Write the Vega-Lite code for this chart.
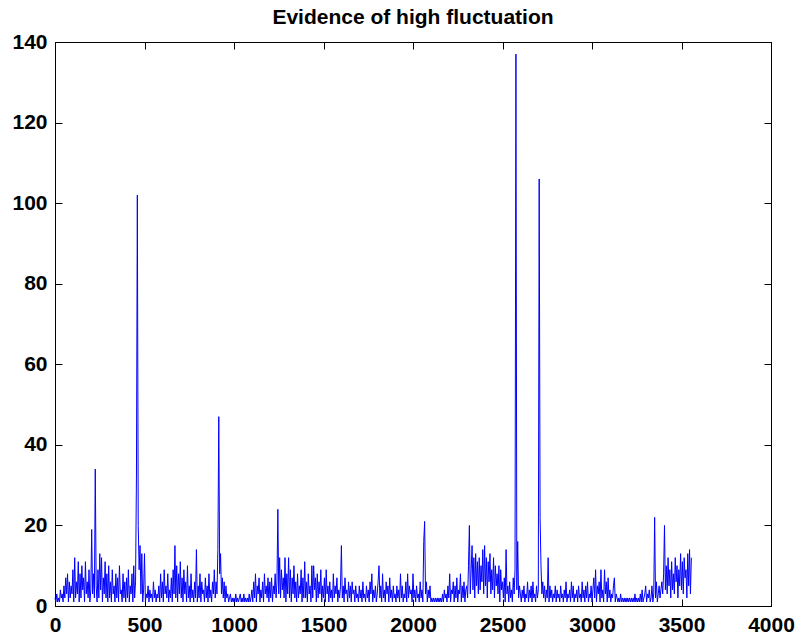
{
"$schema":"https://vega.github.io/schema/vega-lite/v6.json",
"width":716,"height":564,
"autosize":{"type":"none"},
"padding":{"left":55,"top":42,"right":26,"bottom":30},
"background":"white",
"title":{"text":"Evidence of high fluctuation","font":"Liberation Sans","fontSize":21,"fontWeight":"bold","color":"black","anchor":"middle","baseline":"bottom","offset":-18},
"config":{"view":{"stroke":"black","strokeWidth":1},
"axis":{"grid":false,"domain":true,"domainColor":"black","domainWidth":1,"tickColor":"black","tickWidth":1,"tickSize":-7,"labelPadding":15,"labelFont":"Liberation Sans","labelFontSize":21,"labelFontWeight":"bold","labelColor":"black","labelFlush":false,"labelOverlap":false,"title":null,"format":"d"}},
"data":{"values":[
{"x":0,"y":2},{"x":5,"y":1},{"x":10,"y":3},{"x":15,"y":1},{"x":20,"y":2},{"x":25,"y":1},{"x":30,"y":4},{"x":35,"y":2},{"x":40,"y":3},{"x":45,"y":1},{"x":50,"y":5},{"x":55,"y":2},{"x":60,"y":7},{"x":65,"y":3},{"x":70,"y":8},{"x":75,"y":1},{"x":80,"y":6},{"x":85,"y":2},{"x":90,"y":5},{"x":95,"y":3},
{"x":100,"y":9},{"x":105,"y":1},{"x":110,"y":12},{"x":115,"y":2},{"x":120,"y":6},{"x":125,"y":3},{"x":130,"y":11},{"x":135,"y":1},{"x":140,"y":8},{"x":145,"y":2},{"x":150,"y":10},{"x":155,"y":4},{"x":160,"y":7},{"x":165,"y":1},{"x":170,"y":11},{"x":175,"y":3},{"x":180,"y":6},{"x":185,"y":2},{"x":190,"y":9},{"x":195,"y":1},
{"x":200,"y":4},{"x":205,"y":19},{"x":210,"y":3},{"x":215,"y":8},{"x":220,"y":2},{"x":225,"y":34},{"x":230,"y":5},{"x":235,"y":1},{"x":240,"y":9},{"x":245,"y":2},{"x":250,"y":13},{"x":255,"y":4},{"x":260,"y":12},{"x":265,"y":1},{"x":270,"y":7},{"x":275,"y":3},{"x":280,"y":11},{"x":285,"y":2},{"x":290,"y":8},{"x":295,"y":1},
{"x":300,"y":10},{"x":305,"y":2},{"x":310,"y":6},{"x":315,"y":1},{"x":320,"y":9},{"x":325,"y":3},{"x":330,"y":5},{"x":335,"y":1},{"x":340,"y":8},{"x":345,"y":2},{"x":350,"y":7},{"x":355,"y":1},{"x":360,"y":10},{"x":365,"y":3},{"x":370,"y":4},{"x":375,"y":1},{"x":380,"y":8},{"x":385,"y":2},{"x":390,"y":6},{"x":395,"y":1},
{"x":400,"y":7},{"x":405,"y":2},{"x":410,"y":9},{"x":415,"y":1},{"x":420,"y":5},{"x":425,"y":3},{"x":430,"y":8},{"x":435,"y":1},{"x":440,"y":10},{"x":445,"y":2},{"x":450,"y":6},{"x":455,"y":32},{"x":460,"y":102},{"x":465,"y":20},{"x":470,"y":9},{"x":475,"y":15},{"x":480,"y":3},{"x":485,"y":13},{"x":490,"y":1},{"x":495,"y":4},
{"x":500,"y":13},{"x":505,"y":1},{"x":510,"y":3},{"x":515,"y":2},{"x":520,"y":5},{"x":525,"y":1},{"x":530,"y":4},{"x":535,"y":2},{"x":540,"y":3},{"x":545,"y":1},{"x":550,"y":6},{"x":555,"y":2},{"x":560,"y":4},{"x":565,"y":1},{"x":570,"y":3},{"x":575,"y":2},{"x":580,"y":5},{"x":585,"y":1},{"x":590,"y":8},{"x":595,"y":2},
{"x":600,"y":6},{"x":605,"y":1},{"x":610,"y":9},{"x":615,"y":3},{"x":620,"y":5},{"x":625,"y":2},{"x":630,"y":8},{"x":635,"y":1},{"x":640,"y":4},{"x":645,"y":2},{"x":650,"y":7},{"x":655,"y":1},{"x":660,"y":9},{"x":665,"y":3},{"x":670,"y":15},{"x":675,"y":2},{"x":680,"y":10},{"x":685,"y":1},{"x":690,"y":8},{"x":695,"y":3},
{"x":700,"y":11},{"x":705,"y":2},{"x":710,"y":7},{"x":715,"y":1},{"x":720,"y":9},{"x":725,"y":3},{"x":730,"y":6},{"x":735,"y":1},{"x":740,"y":10},{"x":745,"y":2},{"x":750,"y":5},{"x":755,"y":1},{"x":760,"y":8},{"x":765,"y":2},{"x":770,"y":4},{"x":775,"y":1},{"x":780,"y":6},{"x":785,"y":2},{"x":790,"y":14},{"x":795,"y":1},
{"x":800,"y":5},{"x":805,"y":2},{"x":810,"y":8},{"x":815,"y":1},{"x":820,"y":6},{"x":825,"y":3},{"x":830,"y":4},{"x":835,"y":1},{"x":840,"y":7},{"x":845,"y":2},{"x":850,"y":5},{"x":855,"y":1},{"x":860,"y":8},{"x":865,"y":2},{"x":870,"y":4},{"x":875,"y":1},{"x":880,"y":6},{"x":885,"y":3},{"x":890,"y":9},{"x":895,"y":2},
{"x":900,"y":6},{"x":905,"y":3},{"x":910,"y":14},{"x":915,"y":47},{"x":920,"y":8},{"x":925,"y":13},{"x":930,"y":3},{"x":935,"y":7},{"x":940,"y":2},{"x":945,"y":6},{"x":950,"y":1},{"x":955,"y":5},{"x":960,"y":2},{"x":965,"y":3},{"x":970,"y":1},{"x":975,"y":2},{"x":980,"y":3},{"x":985,"y":1},{"x":990,"y":2},{"x":995,"y":1},
{"x":1000,"y":2},{"x":1005,"y":1},{"x":1010,"y":3},{"x":1015,"y":1},{"x":1020,"y":2},{"x":1025,"y":1},{"x":1030,"y":2},{"x":1035,"y":3},{"x":1040,"y":1},{"x":1045,"y":2},{"x":1050,"y":1},{"x":1055,"y":3},{"x":1060,"y":1},{"x":1065,"y":2},{"x":1070,"y":1},{"x":1075,"y":2},{"x":1080,"y":1},{"x":1085,"y":3},{"x":1090,"y":1},{"x":1095,"y":2},
{"x":1100,"y":4},{"x":1105,"y":1},{"x":1110,"y":6},{"x":1115,"y":2},{"x":1120,"y":8},{"x":1125,"y":1},{"x":1130,"y":5},{"x":1135,"y":3},{"x":1140,"y":7},{"x":1145,"y":1},{"x":1150,"y":4},{"x":1155,"y":2},{"x":1160,"y":6},{"x":1165,"y":1},{"x":1170,"y":8},{"x":1175,"y":3},{"x":1180,"y":5},{"x":1185,"y":2},{"x":1190,"y":7},{"x":1195,"y":1},
{"x":1200,"y":6},{"x":1205,"y":2},{"x":1210,"y":7},{"x":1215,"y":1},{"x":1220,"y":5},{"x":1225,"y":3},{"x":1230,"y":8},{"x":1235,"y":2},{"x":1240,"y":6},{"x":1245,"y":24},{"x":1250,"y":3},{"x":1255,"y":12},{"x":1260,"y":2},{"x":1265,"y":9},{"x":1270,"y":4},{"x":1275,"y":7},{"x":1280,"y":2},{"x":1285,"y":12},{"x":1290,"y":1},{"x":1295,"y":8},
{"x":1300,"y":3},{"x":1305,"y":12},{"x":1310,"y":2},{"x":1315,"y":9},{"x":1320,"y":1},{"x":1325,"y":7},{"x":1330,"y":3},{"x":1335,"y":10},{"x":1340,"y":2},{"x":1345,"y":6},{"x":1350,"y":1},{"x":1355,"y":8},{"x":1360,"y":2},{"x":1365,"y":5},{"x":1370,"y":3},{"x":1375,"y":9},{"x":1380,"y":1},{"x":1385,"y":7},{"x":1390,"y":2},{"x":1395,"y":11},
{"x":1400,"y":2},{"x":1405,"y":6},{"x":1410,"y":1},{"x":1415,"y":8},{"x":1420,"y":3},{"x":1425,"y":5},{"x":1430,"y":1},{"x":1435,"y":10},{"x":1440,"y":2},{"x":1445,"y":10},{"x":1450,"y":4},{"x":1455,"y":7},{"x":1460,"y":1},{"x":1465,"y":8},{"x":1470,"y":2},{"x":1475,"y":6},{"x":1480,"y":3},{"x":1485,"y":9},{"x":1490,"y":1},{"x":1495,"y":5},
{"x":1500,"y":2},{"x":1505,"y":7},{"x":1510,"y":1},{"x":1515,"y":9},{"x":1520,"y":3},{"x":1525,"y":5},{"x":1530,"y":1},{"x":1535,"y":6},{"x":1540,"y":2},{"x":1545,"y":4},{"x":1550,"y":1},{"x":1555,"y":8},{"x":1560,"y":2},{"x":1565,"y":5},{"x":1570,"y":3},{"x":1575,"y":7},{"x":1580,"y":1},{"x":1585,"y":4},{"x":1590,"y":2},{"x":1595,"y":5},
{"x":1600,"y":15},{"x":1605,"y":2},{"x":1610,"y":5},{"x":1615,"y":1},{"x":1620,"y":7},{"x":1625,"y":3},{"x":1630,"y":4},{"x":1635,"y":1},{"x":1640,"y":6},{"x":1645,"y":2},{"x":1650,"y":5},{"x":1655,"y":1},{"x":1660,"y":6},{"x":1665,"y":3},{"x":1670,"y":4},{"x":1675,"y":1},{"x":1680,"y":5},{"x":1685,"y":2},{"x":1690,"y":3},{"x":1695,"y":1},
{"x":1700,"y":5},{"x":1705,"y":2},{"x":1710,"y":4},{"x":1715,"y":1},{"x":1720,"y":6},{"x":1725,"y":2},{"x":1730,"y":3},{"x":1735,"y":1},{"x":1740,"y":5},{"x":1745,"y":2},{"x":1750,"y":4},{"x":1755,"y":1},{"x":1760,"y":6},{"x":1765,"y":3},{"x":1770,"y":8},{"x":1775,"y":1},{"x":1780,"y":4},{"x":1785,"y":2},{"x":1790,"y":5},{"x":1795,"y":1},
{"x":1800,"y":3},{"x":1805,"y":6},{"x":1810,"y":10},{"x":1815,"y":2},{"x":1820,"y":5},{"x":1825,"y":1},{"x":1830,"y":8},{"x":1835,"y":2},{"x":1840,"y":4},{"x":1845,"y":1},{"x":1850,"y":6},{"x":1855,"y":3},{"x":1860,"y":5},{"x":1865,"y":1},{"x":1870,"y":7},{"x":1875,"y":2},{"x":1880,"y":4},{"x":1885,"y":1},{"x":1890,"y":5},{"x":1895,"y":2},
{"x":1900,"y":3},{"x":1905,"y":1},{"x":1910,"y":5},{"x":1915,"y":2},{"x":1920,"y":4},{"x":1925,"y":1},{"x":1930,"y":8},{"x":1935,"y":2},{"x":1940,"y":5},{"x":1945,"y":1},{"x":1950,"y":3},{"x":1955,"y":2},{"x":1960,"y":6},{"x":1965,"y":1},{"x":1970,"y":8},{"x":1975,"y":2},{"x":1980,"y":5},{"x":1985,"y":3},{"x":1990,"y":4},{"x":1995,"y":1},
{"x":2000,"y":8},{"x":2005,"y":2},{"x":2010,"y":4},{"x":2015,"y":1},{"x":2020,"y":5},{"x":2025,"y":2},{"x":2030,"y":3},{"x":2035,"y":1},{"x":2040,"y":6},{"x":2045,"y":2},{"x":2050,"y":4},{"x":2055,"y":1},{"x":2060,"y":16},{"x":2065,"y":21},{"x":2070,"y":3},{"x":2075,"y":6},{"x":2080,"y":1},{"x":2085,"y":4},{"x":2090,"y":2},{"x":2095,"y":5},
{"x":2100,"y":1},{"x":2105,"y":2},{"x":2110,"y":1},{"x":2115,"y":2},{"x":2120,"y":1},{"x":2125,"y":2},{"x":2130,"y":1},{"x":2135,"y":2},{"x":2140,"y":1},{"x":2145,"y":2},{"x":2150,"y":1},{"x":2155,"y":2},{"x":2160,"y":1},{"x":2165,"y":3},{"x":2170,"y":1},{"x":2175,"y":4},{"x":2180,"y":2},{"x":2185,"y":3},{"x":2190,"y":1},{"x":2195,"y":5},
{"x":2200,"y":2},{"x":2205,"y":8},{"x":2210,"y":1},{"x":2215,"y":4},{"x":2220,"y":3},{"x":2225,"y":6},{"x":2230,"y":1},{"x":2235,"y":5},{"x":2240,"y":2},{"x":2245,"y":7},{"x":2250,"y":1},{"x":2255,"y":4},{"x":2260,"y":3},{"x":2265,"y":8},{"x":2270,"y":1},{"x":2275,"y":5},{"x":2280,"y":2},{"x":2285,"y":6},{"x":2290,"y":1},{"x":2295,"y":4},
{"x":2300,"y":5},{"x":2305,"y":2},{"x":2310,"y":10},{"x":2315,"y":20},{"x":2320,"y":3},{"x":2325,"y":9},{"x":2330,"y":15},{"x":2335,"y":4},{"x":2340,"y":12},{"x":2345,"y":2},{"x":2350,"y":13},{"x":2355,"y":5},{"x":2360,"y":11},{"x":2365,"y":3},{"x":2370,"y":12},{"x":2375,"y":4},{"x":2380,"y":10},{"x":2385,"y":6},{"x":2390,"y":14},{"x":2395,"y":3},
{"x":2400,"y":15},{"x":2405,"y":5},{"x":2410,"y":12},{"x":2415,"y":2},{"x":2420,"y":11},{"x":2425,"y":6},{"x":2430,"y":13},{"x":2435,"y":3},{"x":2440,"y":9},{"x":2445,"y":4},{"x":2450,"y":12},{"x":2455,"y":2},{"x":2460,"y":10},{"x":2465,"y":5},{"x":2470,"y":8},{"x":2475,"y":3},{"x":2480,"y":10},{"x":2485,"y":1},{"x":2490,"y":9},{"x":2495,"y":4},
{"x":2500,"y":6},{"x":2505,"y":2},{"x":2510,"y":7},{"x":2515,"y":1},{"x":2520,"y":14},{"x":2525,"y":3},{"x":2530,"y":5},{"x":2535,"y":1},{"x":2540,"y":6},{"x":2545,"y":2},{"x":2550,"y":4},{"x":2555,"y":1},{"x":2560,"y":7},{"x":2565,"y":3},{"x":2570,"y":9},{"x":2575,"y":137},{"x":2580,"y":4},{"x":2585,"y":16},{"x":2590,"y":2},{"x":2595,"y":5},
{"x":2600,"y":3},{"x":2605,"y":1},{"x":2610,"y":4},{"x":2615,"y":2},{"x":2620,"y":5},{"x":2625,"y":1},{"x":2630,"y":3},{"x":2635,"y":2},{"x":2640,"y":6},{"x":2645,"y":1},{"x":2650,"y":4},{"x":2655,"y":2},{"x":2660,"y":5},{"x":2665,"y":1},{"x":2670,"y":6},{"x":2675,"y":2},{"x":2680,"y":3},{"x":2685,"y":1},{"x":2690,"y":5},{"x":2695,"y":2},
{"x":2700,"y":4},{"x":2705,"y":106},{"x":2710,"y":22},{"x":2715,"y":10},{"x":2720,"y":3},{"x":2725,"y":6},{"x":2730,"y":2},{"x":2735,"y":5},{"x":2740,"y":1},{"x":2745,"y":4},{"x":2750,"y":2},{"x":2755,"y":12},{"x":2760,"y":1},{"x":2765,"y":5},{"x":2770,"y":2},{"x":2775,"y":4},{"x":2780,"y":1},{"x":2785,"y":3},{"x":2790,"y":2},{"x":2795,"y":5},
{"x":2800,"y":1},{"x":2805,"y":4},{"x":2810,"y":2},{"x":2815,"y":3},{"x":2820,"y":1},{"x":2825,"y":5},{"x":2830,"y":2},{"x":2835,"y":3},{"x":2840,"y":1},{"x":2845,"y":4},{"x":2850,"y":2},{"x":2855,"y":6},{"x":2860,"y":1},{"x":2865,"y":3},{"x":2870,"y":2},{"x":2875,"y":4},{"x":2880,"y":1},{"x":2885,"y":6},{"x":2890,"y":2},{"x":2895,"y":5},
{"x":2900,"y":1},{"x":2905,"y":3},{"x":2910,"y":2},{"x":2915,"y":4},{"x":2920,"y":1},{"x":2925,"y":5},{"x":2930,"y":2},{"x":2935,"y":3},{"x":2940,"y":1},{"x":2945,"y":6},{"x":2950,"y":2},{"x":2955,"y":4},{"x":2960,"y":1},{"x":2965,"y":5},{"x":2970,"y":2},{"x":2975,"y":6},{"x":2980,"y":1},{"x":2985,"y":3},{"x":2990,"y":2},{"x":2995,"y":5},
{"x":3000,"y":1},{"x":3005,"y":4},{"x":3010,"y":7},{"x":3015,"y":2},{"x":3020,"y":9},{"x":3025,"y":1},{"x":3030,"y":5},{"x":3035,"y":3},{"x":3040,"y":6},{"x":3045,"y":1},{"x":3050,"y":9},{"x":3055,"y":2},{"x":3060,"y":4},{"x":3065,"y":1},{"x":3070,"y":9},{"x":3075,"y":3},{"x":3080,"y":6},{"x":3085,"y":1},{"x":3090,"y":7},{"x":3095,"y":2},
{"x":3100,"y":4},{"x":3105,"y":1},{"x":3110,"y":3},{"x":3115,"y":2},{"x":3120,"y":5},{"x":3125,"y":7},{"x":3130,"y":1},{"x":3135,"y":3},{"x":3140,"y":2},{"x":3145,"y":1},{"x":3150,"y":2},{"x":3155,"y":1},{"x":3160,"y":3},{"x":3165,"y":1},{"x":3170,"y":2},{"x":3175,"y":1},{"x":3180,"y":2},{"x":3185,"y":1},{"x":3190,"y":2},{"x":3195,"y":1},
{"x":3200,"y":2},{"x":3205,"y":1},{"x":3210,"y":2},{"x":3215,"y":1},{"x":3220,"y":2},{"x":3225,"y":1},{"x":3230,"y":2},{"x":3235,"y":1},{"x":3240,"y":3},{"x":3245,"y":1},{"x":3250,"y":2},{"x":3255,"y":1},{"x":3260,"y":2},{"x":3265,"y":1},{"x":3270,"y":3},{"x":3275,"y":1},{"x":3280,"y":4},{"x":3285,"y":1},{"x":3290,"y":2},{"x":3295,"y":3},
{"x":3300,"y":5},{"x":3305,"y":1},{"x":3310,"y":3},{"x":3315,"y":2},{"x":3320,"y":4},{"x":3325,"y":1},{"x":3330,"y":2},{"x":3335,"y":5},{"x":3340,"y":1},{"x":3345,"y":3},{"x":3350,"y":22},{"x":3355,"y":2},{"x":3360,"y":6},{"x":3365,"y":1},{"x":3370,"y":3},{"x":3375,"y":5},{"x":3380,"y":2},{"x":3385,"y":4},{"x":3390,"y":6},{"x":3395,"y":3},
{"x":3400,"y":8},{"x":3405,"y":20},{"x":3410,"y":4},{"x":3415,"y":10},{"x":3420,"y":3},{"x":3425,"y":12},{"x":3430,"y":5},{"x":3435,"y":9},{"x":3440,"y":2},{"x":3445,"y":11},{"x":3450,"y":4},{"x":3455,"y":8},{"x":3460,"y":3},{"x":3465,"y":12},{"x":3470,"y":6},{"x":3475,"y":10},{"x":3480,"y":2},{"x":3485,"y":9},{"x":3490,"y":5},{"x":3495,"y":13},
{"x":3500,"y":4},{"x":3505,"y":11},{"x":3510,"y":3},{"x":3515,"y":12},{"x":3520,"y":7},{"x":3525,"y":9},{"x":3530,"y":2},{"x":3535,"y":13},{"x":3540,"y":5},{"x":3545,"y":14},{"x":3550,"y":3},{"x":3555,"y":12}
]},
"layer":[
{"mark":{"type":"line","color":"#0000ff","strokeWidth":1},
"encoding":{
"x":{"field":"x","type":"quantitative","scale":{"domain":[0,4000],"nice":false,"zero":false},"axis":{"orient":"bottom","values":[0,500,1000,1500,2000,2500,3000,3500,4000]}},
"y":{"field":"y","type":"quantitative","scale":{"domain":[0,140],"nice":false},"axis":{"orient":"left","values":[0,20,40,60,80,100,120,140]}}}},
{"mark":{"type":"line","color":"#0000ff","strokeWidth":1,"opacity":0},
"encoding":{
"x":{"field":"x","type":"quantitative","scale":{"domain":[0,4000],"nice":false,"zero":false},"axis":{"orient":"top","values":[0,500,1000,1500,2000,2500,3000,3500,4000],"labels":false,"minExtent":0,"maxExtent":0,"labelPadding":0}},
"y":{"field":"y","type":"quantitative","scale":{"domain":[0,140],"nice":false},"axis":{"orient":"right","values":[0,20,40,60,80,100,120,140],"labels":false}}}}
],
"resolve":{"axis":{"x":"independent","y":"independent"}}
}
